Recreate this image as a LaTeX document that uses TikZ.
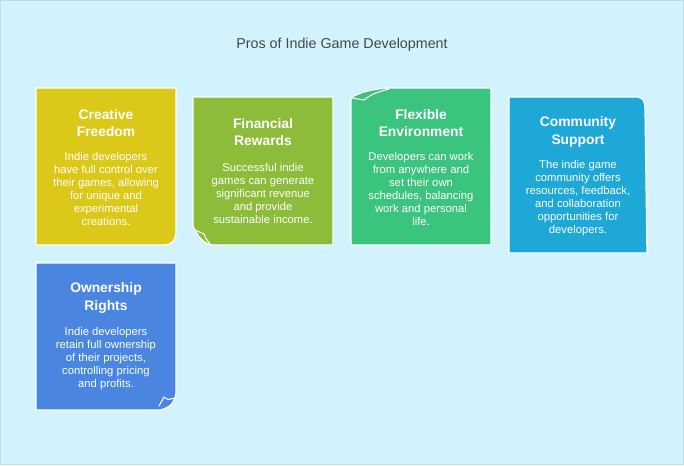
\documentclass[tikz,border=0pt]{standalone}
\usepackage{fontspec}
\setmainfont{Liberation Sans}
\usepackage{xcolor}
\usetikzlibrary{positioning}

\definecolor{bgBlue}{RGB}{210,242,253}
\definecolor{bgLine}{RGB}{188,222,235}
\definecolor{titleGray}{RGB}{70,70,70}
\definecolor{cYellow}{RGB}{220,200,24}
\definecolor{cLime}{RGB}{141,187,58}
\definecolor{cGreen}{RGB}{58,196,126}
\definecolor{cCyan}{RGB}{30,168,216}
\definecolor{cBlue}{RGB}{74,134,224}

\tikzset{
  card/.style    = {draw=white, line width=1.1pt, line join=round},
  fold/.style    = {draw=white, line width=0.9pt, line join=round, line cap=round},
  head/.style    = {text=white, align=center,
                    font=\fontsize{11.8}{15.2}\selectfont\bfseries},
  body/.style    = {text=white, align=center,
                    font=\fontsize{9.6}{11.1}\selectfont},
}

\begin{document}
\begin{tikzpicture}[x=0.03cm, y=-0.03cm]

    %% Background
    \useasboundingbox (0,0) rectangle (684,465);
    \fill[bgBlue, draw=bgLine, line width=0.4pt] (0.5,0.5) rectangle (683.5,464.5);

    \node[text=titleGray, font=\fontsize{12.2}{14}\selectfont] (title) at (342,45)
        {Pros of Indie Game Development};

    %% Cards
    \filldraw[card, fill=cYellow] (36,88) -- (176,88) -- (176,233)
        .. controls (175,241) and (172,244) .. (166,245) -- (36,245) -- cycle;
    \filldraw[card, fill=cLime] (193,97) -- (333,97) -- (333,245) -- (212,245)
        .. controls (205,244) and (199,238) .. (196,232) -- (193,226) -- cycle;
    \draw[fold] (195,230) -- (204,234) .. controls (206,239) .. (211,245);
    \filldraw[card, fill=cGreen] (351,245) -- (351,98)
        .. controls (358,93) and (370,89) .. (390,88) -- (491,88) -- (491,245) -- cycle;
    \draw[fold] (352,98) -- (364,100) .. controls (372,94) .. (389,89);
    \filldraw[card, fill=cCyan] (509,97) -- (638,97)
        .. controls (643,98) and (645,102) .. (645,108) -- (647,253) -- (509,253) -- cycle;
    \filldraw[card, fill=cBlue] (36,263) -- (176,263) -- (176,393)
        .. controls (175,402) and (170,408) .. (160,410) -- (36,410) -- cycle;
    \draw[fold] (159,406) -- (164,397) .. controls (168,400) .. (174,398);

    %% Texts
    \node[head] (creH) at (106,123) {Creative\\Freedom};
    \node[body] (creB) at (106,189) {Indie developers\\have full control over\\their games, allowing\\for unique and\\experimental\\creations.};

    \node[head] (finH) at (263,132) {Financial\\Rewards};
    \node[body] (finB) at (263,193) {Successful indie\\games can generate\\significant revenue\\and provide\\sustainable income.};

    \node[head] (flexH) at (421,123) {Flexible\\Environment};
    \node[body] (flexB) at (421,189) {Developers can work\\from anywhere and\\set their own\\schedules, balancing\\work and personal\\life.};

    \node[head] (comH) at (578,132) {Community\\Support};
    \node[body] (comB) at (578,198) {The indie game\\community offers\\resources, feedback,\\and collaboration\\opportunities for\\developers.};

    \node[head] (ownH) at (106,298) {Ownership\\Rights};
    \node[body] (ownB) at (106,359) {Indie developers\\retain full ownership\\of their projects,\\controlling pricing\\and profits.};

\end{tikzpicture}
\end{document}
